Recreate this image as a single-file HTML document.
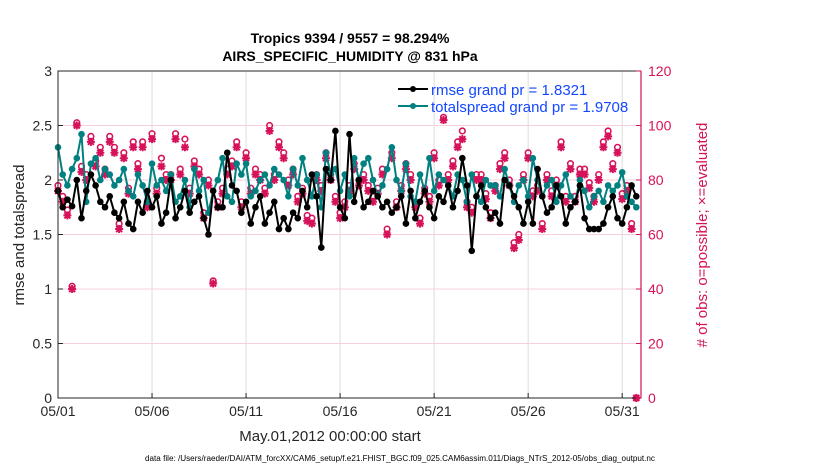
<!DOCTYPE html>
<html><head><meta charset="utf-8"><style>
body{margin:0;background:#fff;}
svg{display:block;font-family:"Liberation Sans",Arial,sans-serif;}
</style></head><body>
<svg id="chart" width="830" height="470">
<g id="grid"></g>
<g id="series"></g>
<rect x="58" y="71" width="583" height="327" fill="none" stroke="#262626" stroke-width="1"/>
<line x1="641" y1="71" x2="641" y2="398" stroke="#d6125a" stroke-width="1.2"/>
<g id="axes"></g>
<text x="350" y="43" text-anchor="middle" font-size="14" font-weight="bold">Tropics 9394 / 9557 = 98.294%</text>
<text x="350" y="61" text-anchor="middle" font-size="14" font-weight="bold">AIRS_SPECIFIC_HUMIDITY @ 831 hPa</text>
<text transform="translate(24,235) rotate(-90)" text-anchor="middle" font-size="15" fill="#262626">rmse and totalspread</text>
<text transform="translate(707,235) rotate(-90)" text-anchor="middle" font-size="15" fill="#d6125a"># of obs: o=possible; ×=evaluated</text>
<text x="330" y="441" text-anchor="middle" font-size="15" fill="#262626">May.01,2012 00:00:00 start</text>
<text x="400" y="461" text-anchor="middle" font-size="8" textLength="510" lengthAdjust="spacingAndGlyphs" fill="#000">data file: /Users/raeder/DAI/ATM_forcXX/CAM6_setup/f.e21.FHIST_BGC.f09_025.CAM6assim.011/Diags_NTrS_2012-05/obs_diag_output.nc</text>
<g>
<g>
<line x1="398" y1="89" x2="428" y2="89" stroke="#000" stroke-width="2"/><circle cx="413" cy="89" r="3" fill="#000"/>
<text x="431" y="95" font-size="15" fill="#1447ff">rmse grand pr = 1.8321</text></g>
<g>
<line x1="398" y1="106" x2="428" y2="106" stroke="#008080" stroke-width="2"/><circle cx="413" cy="106" r="3" fill="#008080"/>
<text x="431" y="112" font-size="15" fill="#1447ff">totalspread grand pr = 1.9708</text></g>
</g>
</svg>
<script>
const rmse=[1.9,1.75,1.82,1.76,2.0,1.65,1.9,2.05,1.95,1.8,1.75,1.85,1.7,1.65,1.8,1.6,1.55,1.8,1.7,1.9,1.75,1.85,1.6,1.7,2.0,1.65,1.75,1.9,1.7,1.8,1.85,1.65,1.5,1.9,1.75,1.75,2.25,1.95,1.9,1.7,1.8,1.6,1.75,1.85,1.6,1.7,1.8,1.55,1.65,1.55,1.7,1.65,1.9,1.75,2.05,1.85,1.38,2.1,2.0,2.45,1.75,1.65,2.42,1.8,2.0,1.75,1.8,1.9,1.85,1.75,1.8,1.7,1.75,1.85,1.6,1.9,1.65,1.8,1.9,1.75,1.65,1.85,1.8,1.95,1.75,1.9,2.2,1.95,1.35,1.85,1.95,1.75,1.65,1.7,1.6,2.0,1.95,1.85,1.75,1.6,1.8,1.6,2.1,1.85,1.7,1.75,1.95,1.85,1.6,1.75,1.8,1.95,1.65,1.55,1.55,1.55,1.6,1.75,1.85,1.65,1.6,1.75,1.95,1.85];
const spread=[2.3,2.05,1.95,2.1,2.2,2.42,1.8,2.15,2.2,2.0,2.1,2.05,1.95,2.0,2.1,1.9,1.85,2.05,1.95,1.8,2.15,1.95,2.0,1.9,2.05,1.8,1.85,2.0,1.75,2.1,1.9,2.0,1.7,1.9,2.0,2.2,1.85,1.8,2.15,2.05,2.15,1.85,1.9,2.0,2.05,1.95,2.1,2.05,2.0,1.85,2.1,1.95,2.2,2.0,1.85,2.05,1.75,2.25,2.05,2.1,1.9,2.05,1.85,2.2,2.0,2.15,2.2,2.0,1.85,1.95,2.1,2.3,2.0,1.9,2.15,1.85,1.8,2.05,1.9,2.2,1.9,2.05,2.0,1.95,1.85,2.05,2.0,1.8,2.05,1.85,1.8,2.0,1.95,1.95,1.85,2.1,1.95,1.8,1.95,2.0,1.85,2.2,2.0,1.85,1.95,2.0,1.8,1.95,2.05,1.85,1.8,2.0,1.9,1.75,1.85,1.9,1.8,1.95,1.9,1.95,2.07,1.85,1.8,1.75];
const obsUsed=[76,72,67,40,100,83,80,94,85,90,82,94,90,62,88,75,92,84,92,70,95,75,85,80,80,95,82,92,75,85,82,66,78,42,70,75,82,85,92,70,88,75,82,80,75,98,80,92,88,78,82,72,75,65,64,80,76,88,80,72,66,70,76,84,78,80,76,72,75,82,60,88,70,76,84,80,70,64,75,72,88,78,102,80,85,92,95,70,68,80,80,73,66,76,84,88,78,55,58,80,88,74,76,62,80,74,78,92,72,84,72,82,82,77,72,80,92,96,84,90,73,76,62,0];
const obsPoss=[78,74,69,41,101,85,82,96,87,92,84,96,92,64,90,77,94,86,94,72,97,77,88,82,82,97,84,95,77,87,84,68,80,43,72,77,84,87,94,72,90,77,84,82,77,100,82,94,90,80,84,74,77,67,66,82,78,90,82,74,68,72,78,86,80,82,78,74,77,84,62,90,72,78,86,82,72,66,77,74,90,80,103,82,87,94,98,72,70,82,82,75,68,78,86,90,80,57,60,82,90,76,78,64,82,76,80,94,74,86,74,84,84,79,74,82,94,98,86,92,75,78,64,0];
const xTicks=['05/01','05/06','05/11','05/16','05/21','05/26','05/31'];
const xTickDays=[0,5,10,15,20,25,30];
const yTicks=[0,0.5,1,1.5,2,2.5,3];
const y2Ticks=[0,20,40,60,80,100,120];

const NS='http://www.w3.org/2000/svg';
const L=58,R=641,T=71,B=398;
const xs=d=>L+(d/31)*(R-L);
const ys=v=>B-(v/3)*(B-T);
const y2=v=>B-(v/120)*(B-T);
function mk(tag,attrs,parent){const e=document.createElementNS(NS,tag);for(const k in attrs)e.setAttribute(k,attrs[k]);parent.appendChild(e);return e;}
const grid=document.getElementById('grid'),axes=document.getElementById('axes'),ser=document.getElementById('series');
xTickDays.forEach((d,i)=>{
  const g=mk('line',{x1:xs(d),x2:xs(d),y1:T,y2:B,stroke:'#dcdcdc','stroke-width':1},grid);
  
  
  const t=mk('text',{x:xs(d),y:B+18,'text-anchor':'middle','font-size':14,fill:'#262626'},axes);
  t.textContent=xTicks[i];
  
  
  mk('line',{x1:xs(d),x2:xs(d),y1:B,y2:B-5,stroke:'#262626'},axes);
});
yTicks.forEach(v=>{
  const g=mk('line',{x1:L,x2:R,y1:ys(v),y2:ys(v),stroke:'#f7d0dc','stroke-width':1},grid);
  
  
  const t=mk('text',{x:L-6,y:ys(v)+5,'text-anchor':'end','font-size':14,fill:'#262626'},axes);
  t.textContent=String(v);
  
  
  mk('line',{x1:L,x2:L+5,y1:ys(v),y2:ys(v),stroke:'#262626'},axes);
});
y2Ticks.forEach(v=>{
  const t=mk('text',{x:R+7,y:y2(v)+5,'font-size':14,fill:'#d6125a'},axes);
  t.textContent=String(v);
  
  
  mk('line',{x1:R,x2:R-5,y1:y2(v),y2:y2(v),stroke:'#d6125a'},axes);
});
const dayOf=i=>i*0.25;
obsPoss.forEach((v,i)=>{
  const c=mk('circle',{cx:xs(dayOf(i)),cy:y2(v),r:2.8,fill:'none',stroke:'#d6125a','stroke-width':1.6},ser);
  
  
});
obsUsed.forEach((v,i)=>{
  const x=xs(dayOf(i)),y=y2(v),s=4;
  const p=mk('path',{d:`M${x-s},${y}H${x+s}M${x},${y-s}V${y+s}M${x-3},${y-3}L${x+3},${y+3}M${x-3},${y+3}L${x+3},${y-3}`,stroke:'#d6125a','stroke-width':2},ser);
  
  
});
function drawLine(arr,color,name){
  const pts=arr.map((v,i)=>xs(dayOf(i))+','+ys(v)).join(' ');
  const pl=mk('polyline',{points:pts,fill:'none',stroke:color,'stroke-width':2},ser);
  
  
  arr.forEach((v,i)=>{
    const c=mk('circle',{cx:xs(dayOf(i)),cy:ys(v),r:3.3,fill:color},ser);
    
    
  });
}
drawLine(spread,'#008080','totalspread');
drawLine(rmse,'#000000','rmse');
</script>
</body></html>
